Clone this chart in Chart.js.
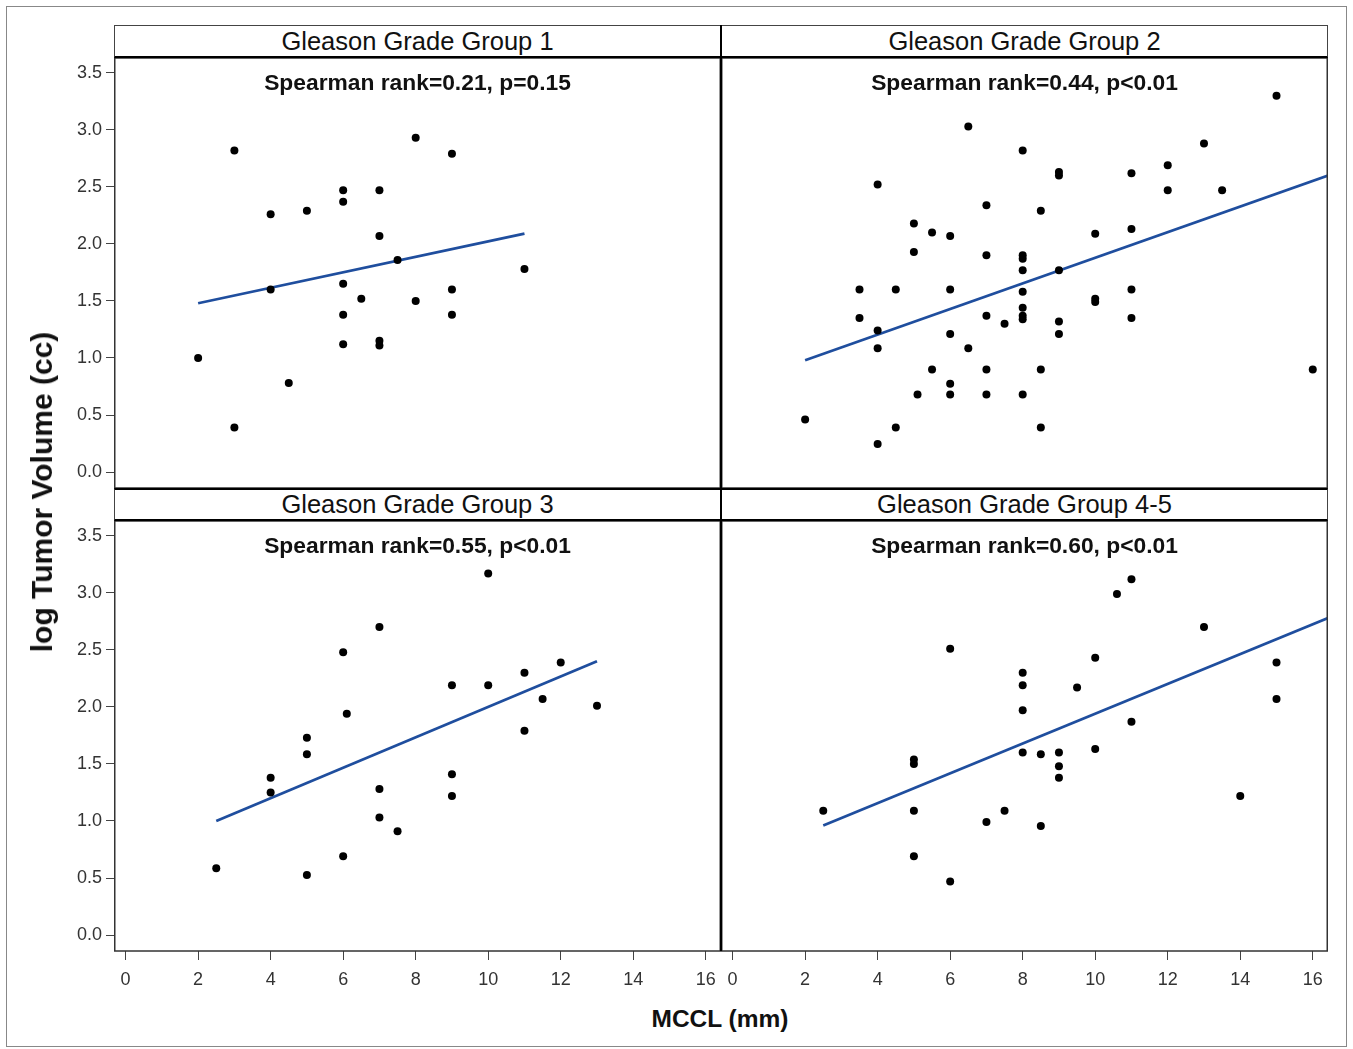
<!DOCTYPE html>
<html>
<head>
<meta charset="utf-8">
<script src="https://cdn.jsdelivr.net/npm/chart.js@4.4.1/dist/chart.umd.min.js"></script>
<style>
  body { margin: 0; background: #fff; }
  #wrap { position: relative; width: 1353px; height: 1049px; font-family: "Liberation Sans", Arial, sans-serif; }
  .frame { position: absolute; left: 6px; top: 6px; width: 1339px; height: 1039px; border: 1px solid #888; }
  .head { position: absolute; height: 33px; box-sizing: border-box; border: 1px solid #444; border-bottom: 2px solid #000;
          text-align: center; font-size: 25.5px; line-height: 30px; color: #111; }
  .row2 { border-top: 2px solid #000; line-height: 29px; }
  .mid { position: absolute; left: 720px; top: 25px; width: 2px; height: 926px; background: #000; }
  canvas { position: absolute; }
  .ytitle { position: absolute; left: 42px; top: 492px; transform: translate(-50%, -50%) rotate(-90deg);
            font-weight: bold; font-size: 30px; white-space: nowrap; color: #111; }
  .xtitle { position: absolute; left: 720px; top: 1019px; transform: translate(-50%, -50%);
            font-weight: bold; font-size: 24.5px; white-space: nowrap; color: #111; }
</style>
</head>
<body>
<div id="wrap">
  <div class="frame"></div>
  <canvas id="c1" width="667" height="430" style="left:54px;top:58px"></canvas>
  <canvas id="c2" width="607" height="430" style="left:721px;top:58px"></canvas>
  <canvas id="c3" width="667" height="480" style="left:54px;top:521px"></canvas>
  <canvas id="c4" width="607" height="480" style="left:721px;top:521px"></canvas>
  <div class="head" style="left:114px;top:25px;width:607px">Gleason Grade Group 1</div>
  <div class="head" style="left:721px;top:25px;width:607px">Gleason Grade Group 2</div>
  <div class="head row2" style="left:114px;top:488px;width:607px">Gleason Grade Group 3</div>
  <div class="head row2" style="left:721px;top:488px;width:607px">Gleason Grade Group 4-5</div>
  <div class="mid"></div>
  <div class="ytitle">log Tumor Volume (cc)</div>
  <div class="xtitle">MCCL (mm)</div>
</div>
<script>
const xTicks = [0, 2, 4, 6, 8, 10, 12, 14, 16];
const yTicks = [0, 0.5, 1, 1.5, 2, 2.5, 3, 3.5];
const yTickLabels = ['0.0', '0.5', '1.0', '1.5', '2.0', '2.5', '3.0', '3.5'];

// Gleason Grade Group 1
const g1X = [2, 3, 3, 4, 4, 4.5, 5, 6, 6, 6, 6, 6, 6.5, 7, 7, 7, 7, 7.5, 8, 8, 9, 9, 9, 11];
const g1Y = [1.0, 2.82, 0.39, 2.26, 1.6, 0.78, 2.29, 2.47, 2.37, 1.65, 1.38, 1.12, 1.52, 2.47, 2.07, 1.15, 1.11, 1.86, 2.93, 1.5, 2.79, 1.6, 1.38, 1.78];
const g1FitX = [2, 11];
const g1FitY = [1.48, 2.09];

// Gleason Grade Group 2
const g2X = [2, 4, 4, 4, 4, 3.5, 3.5, 4.5, 4.5, 5, 5, 5.1, 5.5, 5.5, 6, 6, 6, 6, 6, 6.5, 6.5, 7, 7, 7, 7, 7, 7.5,
             8, 8, 8, 8, 8, 8, 8, 8, 8, 8.5, 8.5, 8.5, 9, 9, 9, 9, 9, 10, 10, 10, 11, 11, 11, 11, 12, 12, 13, 13.5, 15, 16];
const g2Y = [0.46, 2.52, 1.24, 1.085, 0.245, 1.6, 1.35, 1.6, 0.39, 2.18, 1.93, 0.68, 2.1, 0.9, 2.07, 1.6, 1.21, 0.775, 0.68, 3.03, 1.085,
             2.34, 1.9, 1.37, 0.9, 0.68, 1.3, 2.82, 1.9, 1.87, 1.77, 1.58, 1.44, 1.37, 1.34, 0.68, 2.29, 0.9, 0.39,
             2.63, 2.6, 1.77, 1.32, 1.21, 2.09, 1.52, 1.49, 2.62, 2.13, 1.6, 1.35, 2.69, 2.47, 2.88, 2.47, 3.3, 0.9];
const g2FitX = [2, 16.42];
const g2FitY = [0.98, 2.6];

// Gleason Grade Group 3
const g3X = [2.5, 4, 4, 5, 5, 5, 6, 6.1, 6, 7, 7, 7, 7.5, 9, 9, 9, 10, 10, 11, 11, 11.5, 12, 13];
const g3Y = [0.585, 1.38, 1.25, 1.73, 1.585, 0.526, 2.48, 1.94, 0.69, 2.7, 1.28, 1.03, 0.91, 2.19, 1.41, 1.22, 3.17, 2.19, 2.3, 1.79, 2.07, 2.39, 2.01];
const g3FitX = [2.5, 13];
const g3FitY = [1.0, 2.4];

// Gleason Grade Group 4-5
const g4X = [2.5, 5, 5, 5, 5, 6, 6, 7, 7.5, 8, 8, 8, 8, 8.5, 8.5, 9, 9, 9, 9.5, 10, 10, 10.6, 11, 11, 13, 14, 15, 15];
const g4Y = [1.09, 1.54, 1.5, 1.09, 0.69, 2.51, 0.47, 0.99, 1.09, 2.3, 2.19, 1.97, 1.6, 1.585, 0.956, 1.6, 1.48, 1.38, 2.17, 2.43, 1.63, 2.99, 3.12, 1.87, 2.7, 1.22, 2.39, 2.07];
const g4FitX = [2.5, 16.42];
const g4FitY = [0.96, 2.78];

const stats = ['Spearman rank=0.21, p=0.15', 'Spearman rank=0.44, p<0.01', 'Spearman rank=0.55, p<0.01', 'Spearman rank=0.60, p<0.01'];

const zip = (xs, ys) => xs.map((x, i) => ({ x: x, y: ys[i] }));

// frame round the plot area + the spearman line
const panelDeco = {
  id: 'panelDeco',
  afterDraw(chart, args, opts) {
    const a = chart.chartArea, ctx = chart.ctx;
    ctx.save();
    ctx.strokeStyle = '#333';
    ctx.lineWidth = 1.5;
    ctx.strokeRect(a.left + 0.75, a.top, a.right - a.left - 1.5, a.bottom - a.top);
    ctx.fillStyle = '#111';
    ctx.font = 'bold 22.8px "Liberation Sans", Arial, sans-serif';
    ctx.textAlign = 'center';
    ctx.textBaseline = 'middle';
    ctx.fillText(opts.text, (a.left + a.right) / 2, a.top + 26);
    ctx.restore();
  }
};

const tickFont = { size: 18, family: '"Liberation Sans", Arial' };

function makePanel(id, xs, ys, fx, fy, text, showX, showY) {
  new Chart(document.getElementById(id), {
    type: 'scatter',
    data: {
      datasets: [
        { data: zip(xs, ys), backgroundColor: '#000', borderWidth: 0, pointRadius: 4 },
        { type: 'line', data: zip(fx, fy), borderColor: '#1f4e9e', borderWidth: 2.7, pointRadius: 0, tension: 0, fill: false }
      ]
    },
    options: {
      responsive: false,
      animation: false,
      events: [],
      layout: { padding: 0, autoPadding: false },
      plugins: { legend: { display: false }, tooltip: { enabled: false }, panelDeco: { text: text } },
      scales: {
        x: {
          type: 'linear', min: -0.32, max: 16.42, display: showX,
          afterBuildTicks: s => { s.ticks = xTicks.map(v => ({ value: v })); },
          afterFit: s => { s.height = showX ? 50 : 0; s.paddingLeft = 0; s.paddingRight = 0; },
          grid: { drawOnChartArea: false, drawTicks: true, tickLength: 9, color: '#444' },
          border: { display: false },
          ticks: { color: '#333', font: tickFont, padding: 9, maxRotation: 0 }
        },
        y: {
          type: 'linear', min: -0.14, max: 3.63, display: showY,
          afterBuildTicks: s => { s.ticks = yTicks.map(v => ({ value: v })); },
          afterFit: s => { s.width = showY ? 60 : 0; s.paddingTop = 0; s.paddingBottom = 0; },
          grid: { drawOnChartArea: false, drawTicks: true, tickLength: 8, color: '#444' },
          border: { display: false },
          ticks: { color: '#333', font: tickFont, padding: 4,
                   callback: (v, i) => yTickLabels[i] }
        }
      }
    },
    plugins: [panelDeco]
  });
}

makePanel('c1', g1X, g1Y, g1FitX, g1FitY, stats[0], false, true);
makePanel('c2', g2X, g2Y, g2FitX, g2FitY, stats[1], false, false);
makePanel('c3', g3X, g3Y, g3FitX, g3FitY, stats[2], true, true);
makePanel('c4', g4X, g4Y, g4FitX, g4FitY, stats[3], true, false);
</script>
</body>
</html>
